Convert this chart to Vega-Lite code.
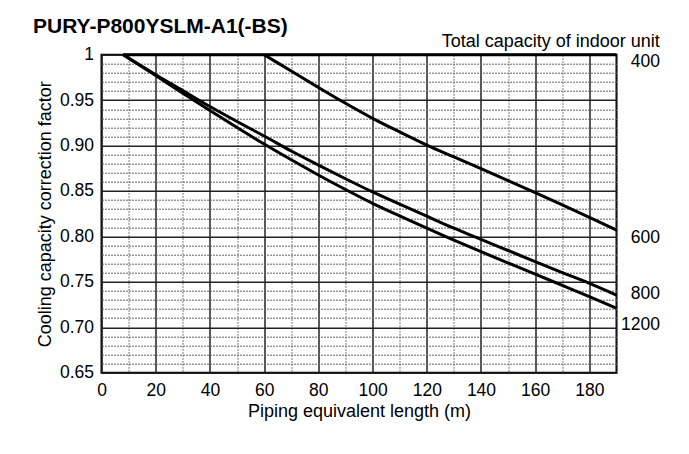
{
  "$schema": "https://vega.github.io/schema/vega-lite/v6.json",
  "width": 515,
  "height": 318,
  "autosize": {"type": "none"},
  "padding": {"left": 101.5, "top": 54.7, "right": 72.5, "bottom": 81.3},
  "background": "white",
  "title": {
    "text": "PURY-P800YSLM-A1(-BS)",
    "anchor": "start",
    "frame": "group",
    "dx": -68.5,
    "baseline": "alphabetic",
    "offset": -21,
    "font": "Liberation Sans",
    "fontSize": 21,
    "fontWeight": "bold",
    "color": "black"
  },
  "config": {
    "font": "Liberation Sans",
    "view": {"stroke": "black", "strokeWidth": 2},
    "axis": {
      "labelFont": "Liberation Sans",
      "titleFont": "Liberation Sans",
      "labelColor": "black",
      "titleColor": "black",
      "titleFontWeight": "normal"
    }
  },
  "datasets": {
    "curves": [
      {"unit": "400", "len": 8, "factor": 1.0},
      {"unit": "400", "len": 190, "factor": 1.0},
      {"unit": "600", "len": 60, "factor": 1.0},
      {"unit": "600", "len": 70, "factor": 0.982},
      {"unit": "600", "len": 80, "factor": 0.964},
      {"unit": "600", "len": 90, "factor": 0.9465},
      {"unit": "600", "len": 100, "factor": 0.930},
      {"unit": "600", "len": 110, "factor": 0.915},
      {"unit": "600", "len": 120, "factor": 0.9005},
      {"unit": "600", "len": 130, "factor": 0.8875},
      {"unit": "600", "len": 140, "factor": 0.8745},
      {"unit": "600", "len": 150, "factor": 0.8615},
      {"unit": "600", "len": 160, "factor": 0.8482},
      {"unit": "600", "len": 170, "factor": 0.8347},
      {"unit": "600", "len": 180, "factor": 0.821},
      {"unit": "600", "len": 190, "factor": 0.807},
      {"unit": "800", "len": 8, "factor": 1.0},
      {"unit": "800", "len": 20, "factor": 0.978},
      {"unit": "800", "len": 30, "factor": 0.9605},
      {"unit": "800", "len": 40, "factor": 0.943},
      {"unit": "800", "len": 50, "factor": 0.9265},
      {"unit": "800", "len": 60, "factor": 0.9105},
      {"unit": "800", "len": 70, "factor": 0.894},
      {"unit": "800", "len": 80, "factor": 0.8786},
      {"unit": "800", "len": 90, "factor": 0.8635},
      {"unit": "800", "len": 100, "factor": 0.849},
      {"unit": "800", "len": 110, "factor": 0.8355},
      {"unit": "800", "len": 120, "factor": 0.8222},
      {"unit": "800", "len": 130, "factor": 0.809},
      {"unit": "800", "len": 140, "factor": 0.7968},
      {"unit": "800", "len": 150, "factor": 0.7845},
      {"unit": "800", "len": 160, "factor": 0.7722},
      {"unit": "800", "len": 170, "factor": 0.7602},
      {"unit": "800", "len": 180, "factor": 0.7484},
      {"unit": "800", "len": 190, "factor": 0.7355},
      {"unit": "1200", "len": 8, "factor": 1.0},
      {"unit": "1200", "len": 20, "factor": 0.977},
      {"unit": "1200", "len": 30, "factor": 0.9575},
      {"unit": "1200", "len": 40, "factor": 0.9385},
      {"unit": "1200", "len": 50, "factor": 0.9198},
      {"unit": "1200", "len": 60, "factor": 0.9017},
      {"unit": "1200", "len": 70, "factor": 0.8843},
      {"unit": "1200", "len": 80, "factor": 0.8676},
      {"unit": "1200", "len": 90, "factor": 0.8516},
      {"unit": "1200", "len": 100, "factor": 0.8364},
      {"unit": "1200", "len": 110, "factor": 0.8225},
      {"unit": "1200", "len": 120, "factor": 0.809},
      {"unit": "1200", "len": 130, "factor": 0.796},
      {"unit": "1200", "len": 140, "factor": 0.7832},
      {"unit": "1200", "len": 150, "factor": 0.7708},
      {"unit": "1200", "len": 160, "factor": 0.7586},
      {"unit": "1200", "len": 170, "factor": 0.746},
      {"unit": "1200", "len": 180, "factor": 0.7337},
      {"unit": "1200", "len": 190, "factor": 0.7209}
    ],
    "labels": [
      {"label": "Total capacity of indoor unit", "factor": 1.0085, "size": 18},
      {"label": "400", "factor": 0.9862, "size": 17.5},
      {"label": "600", "factor": 0.7931, "size": 17.5},
      {"label": "800", "factor": 0.7315, "size": 17.5},
      {"label": "1200", "factor": 0.697, "size": 17.5}
    ]
  },
  "layer": [
    {
      "data": {"name": "curves"},
      "mark": {"type": "line", "color": "black", "strokeWidth": 3, "interpolate": "monotone", "clip": false},
      "encoding": {
        "x": {
          "field": "len",
          "type": "quantitative",
          "scale": {"domain": [0, 190], "nice": false, "zero": false},
          "axis": {
            "title": "Piping equivalent length (m)",
            "titleFontSize": 18,
            "titlePadding": 3,
            "tickCount": 200,
            "values": [0, 10, 20, 30, 40, 50, 60, 70, 80, 90, 100, 110, 120, 130, 140, 150, 160, 170, 180, 190],
            "labelExpr": "datum.value % 20 === 0 ? datum.label : ''",
            "labelFontSize": 17.5,
            "labelPadding": 9,
            "labelFlush": false,
            "labelOverlap": false,
            "labelBound": false,
            "ticks": false,
            "tickSize": 0,
            "domain": false,
            "grid": true,
            "gridColor": {"condition": {"test": "datum.value % 20 !== 0", "value": "#555555"}, "value": "#222222"},
            "gridWidth": {"condition": {"test": "datum.value % 20 !== 0", "value": 1}, "value": 1.5},
            "gridDash": {"condition": {"test": "datum.value % 20 !== 0", "value": [1.5, 1.5]}, "value": []},
            "gridOpacity": 1
          }
        },
        "y": {
          "field": "factor",
          "type": "quantitative",
          "scale": {"domain": [0.65, 1], "nice": false, "zero": false},
          "axis": {
            "title": "Cooling capacity correction factor",
            "titleFontSize": 18,
            "titlePadding": 5,
            "tickCount": 200,
            "values": [0.65, 0.66, 0.67, 0.68, 0.69, 0.7, 0.71, 0.72, 0.73, 0.74, 0.75, 0.76, 0.77, 0.78, 0.79, 0.8, 0.81, 0.82, 0.83, 0.84, 0.85, 0.86, 0.87, 0.88, 0.89, 0.9, 0.91, 0.92, 0.93, 0.94, 0.95, 0.96, 0.97, 0.98, 0.99, 1.0],
            "labelExpr": "round(datum.value * 100) % 5 === 0 ? (datum.value >= 0.999 ? '1' : format(datum.value, '.2f')) : ''",
            "labelFontSize": 17.5,
            "labelPadding": 8,
            "labelFlush": false,
            "labelOverlap": false,
            "labelBound": false,
            "ticks": false,
            "tickSize": 0,
            "domain": false,
            "grid": true,
            "gridColor": {"condition": {"test": "round(datum.value * 100) % 5 !== 0", "value": "#666666"}, "value": "#222222"},
            "gridWidth": {"condition": {"test": "round(datum.value * 100) % 5 !== 0", "value": 1}, "value": 1.5},
            "gridDash": {"condition": {"test": "round(datum.value * 100) % 5 !== 0", "value": [2, 1]}, "value": []},
            "gridOpacity": 1
          }
        },
        "detail": {"field": "unit", "type": "nominal"}
      }
    },
    {
      "data": {"name": "labels"},
      "mark": {"type": "text", "align": "right", "baseline": "alphabetic", "color": "black", "font": "Liberation Sans", "clip": false},
      "encoding": {
        "x": {"datum": 206, "type": "quantitative"},
        "y": {"field": "factor", "type": "quantitative"},
        "text": {"field": "label", "type": "nominal"},
        "size": {"field": "size", "type": "quantitative", "scale": null}
      }
    }
  ]
}
